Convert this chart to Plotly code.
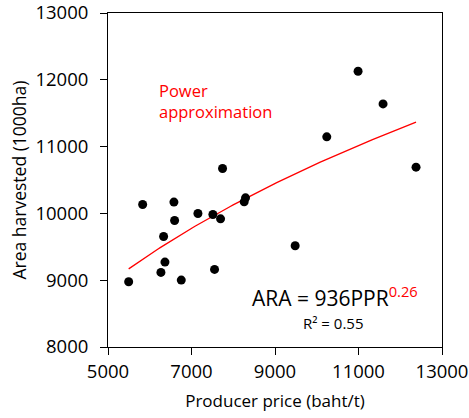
import numpy as np
import plotly.graph_objects as go

# Data
price = [5495, 5830, 6268, 6332, 6364, 6579, 6595, 6755, 7154, 7512,
         7552, 7696, 7744, 8262, 8294, 9483, 10240, 10990, 11588, 12378]
area = [8977, 10134, 9117, 9655, 9271, 10169, 9894, 9002, 9999, 9984,
        9162, 9919, 10672, 10173, 10233, 9515, 11146, 12128, 11639, 10692]

x_ticks = [5000, 7000, 9000, 11000, 13000]
y_ticks = [8000, 9000, 10000, 11000, 12000, 13000]

# Power trendline fitted on the data (log-log regression)
b, loga = np.polyfit(np.log(price), np.log(area), 1)
a = np.exp(loga)
xf = np.linspace(min(price), max(price), 100)
yf = a * xf ** b

FONT = "Open Sans"

fig = go.Figure()
fig.add_trace(go.Scatter(x=xf, y=yf, mode="lines",
                         line=dict(color="red", width=1.3), hoverinfo="skip"))
fig.add_trace(go.Scatter(x=price, y=area, mode="markers",
                         marker=dict(color="black", size=9)))

fig.add_annotation(x=0.147, y=0.738, xref="paper", yref="paper",
                   text="Power<br>approximation", showarrow=False,
                   xanchor="left", yanchor="middle", align="left",
                   font=dict(color="red", size=16.5, family=FONT))
fig.add_annotation(x=0.425, y=0.152, xref="paper", yref="paper",
                   text="ARA = 936PPR<sup><span style='color:red'>0.26</span></sup>",
                   showarrow=False, xanchor="left", yanchor="middle",
                   font=dict(color="black", size=21, family=FONT))
fig.add_annotation(x=0.772, y=0.072, xref="paper", yref="paper",
                   text="R² = 0.55", showarrow=False,
                   xanchor="right", yanchor="middle",
                   font=dict(color="black", size=15, family=FONT))

axis_common = dict(showgrid=False, zeroline=False, showline=True,
                   linecolor="black", linewidth=1, mirror=True,
                   ticks="outside", ticklen=7, tickcolor="black",
                   automargin=False, ticklabeloverflow="allow",
                   tickfont=dict(size=18.5, family=FONT, color="black"))

fig.update_xaxes(range=[5000, 13000], tickvals=x_ticks,
                 ticktext=[str(v) for v in x_ticks],
                 ticklabelstandoff=1,
                 title=dict(text="Producer price (baht/t)",
                            font=dict(size=17, family=FONT, color="black"),
                            standoff=12),
                 **axis_common)
fig.update_yaxes(range=[8000, 13000], tickvals=y_ticks,
                 ticktext=[str(v) for v in y_ticks],
                 ticklabelstandoff=8,
                 title=dict(text="Area harvested (1000ha)",
                            font=dict(size=17.5, family=FONT, color="black"),
                            standoff=4),
                 **axis_common)

fig.update_layout(width=469, height=418, showlegend=False,
                  plot_bgcolor="white", paper_bgcolor="white",
                  margin=dict(l=108, r=27, t=13, b=71),
                  font=dict(family=FONT, color="black"))

fig.write_html("out.html", config={"displayModeBar": False},
               post_script="document.body.style.margin='0';document.body.style.overflow='hidden';")
